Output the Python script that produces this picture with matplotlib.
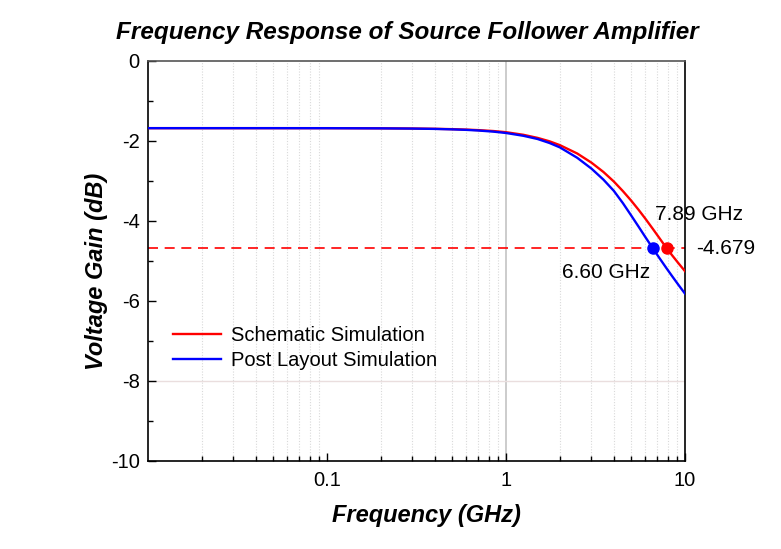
import numpy as np
import matplotlib.pyplot as plt
from matplotlib.ticker import FixedLocator, NullFormatter

plt.rcParams['font.family'] = ['Liberation Sans', 'DejaVu Sans']
plt.rcParams['axes.unicode_minus'] = False

# frequency in GHz, gain in dB
freq = [0.01, 0.05, 0.1, 0.2, 0.3, 0.4, 0.5, 0.6, 0.7, 0.85, 1.0, 1.25, 1.5, 1.75,
        2.0, 2.5, 3.0, 3.5, 4.0, 4.5, 5.0, 5.5, 6.0, 6.6, 7.2, 7.89, 8.5, 9.2, 10.0]
gain_sch = [-1.679, -1.679, -1.679, -1.683, -1.688, -1.695, -1.704, -1.715, -1.728, -1.751, -1.78,
            -1.845, -1.922, -2.008, -2.104, -2.313, -2.541, -2.774, -3.012, -3.254, -3.489, -3.719,
            -3.940, -4.193, -4.430, -4.679, -4.866, -5.059, -5.255]
gain_pls = [-1.679, -1.679, -1.68, -1.684, -1.69, -1.698, -1.709, -1.722, -1.738, -1.766, -1.80,
            -1.87, -1.95, -2.05, -2.16, -2.42, -2.69, -2.965, -3.245, -3.555, -3.86, -4.14,
            -4.40, -4.679, -4.928, -5.185, -5.388, -5.60, -5.817]
f3db_sch, f3db_pls = 7.89, 6.60
g3db = -4.679

fig = plt.figure(figsize=(7.81, 5.49), dpi=100)
ax = fig.add_axes([0.1895, 0.1603, 0.6876, 0.7286])

# grid: dotted minor verticals, solid at 1 GHz, faint at -8 dB
minor_x = [m * 10.0**e for e in (-2, -1, 0) for m in range(2, 10)]
for xm in minor_x:
    ax.axvline(xm, color='#d9d9d9', lw=0.8, ls=(0, (1, 1.5)), zorder=0)
ax.axvline(1, color='#c4c4c4', lw=1.2, zorder=0)
ax.axhline(-8, color='#eadede', lw=1.0, zorder=0)

ax.axhline(g3db, color='red', lw=1.2, ls=(0, (6, 4)), zorder=1)
ax.plot(freq, gain_sch, color='red', lw=1.7, label='Schematic Simulation', zorder=3)
ax.plot(freq, gain_pls, color='blue', lw=1.7, label='Post Layout Simulation', zorder=3)
ax.plot([f3db_sch], [g3db], 'o', color='red', ms=8, zorder=4)
ax.plot([f3db_pls], [g3db], 'o', color='blue', ms=8, zorder=4)

ax.text(6.8, -3.83, '7.89 GHz', fontsize=15, va='center', ha='left')
ax.text(6.4, -5.3, '6.60 GHz', fontsize=15, va='center', ha='right')
ax.text(11.6, g3db, '-4.679', fontsize=15, va='center', ha='left', clip_on=False)

ax.set_xscale('log')
ax.set_xlim(0.01, 10)
ax.set_ylim(-10, 0)
ax.xaxis.set_major_locator(FixedLocator([0.1, 1, 10]))
ax.set_xticklabels(['0.1', '1', '10'])
ax.xaxis.set_minor_locator(FixedLocator(minor_x))
ax.xaxis.set_minor_formatter(NullFormatter())
ax.set_yticks(np.arange(-10, 1, 2))
ax.set_yticks(np.arange(-9, 0, 2), minor=True)
ax.tick_params(which='both', direction='in', labelsize=14.5, top=False, right=False)
ax.tick_params(which='major', length=6, width=1)
ax.tick_params(which='minor', length=3.5, width=1)
ax.tick_params(axis='x', pad=7.5)
ax.tick_params(axis='y', pad=6)
for s in ax.spines.values():
    s.set_linewidth(1.2)
ax.spines['top'].set_color('#555555')

ax.set_xlabel('Frequency (GHz)', fontsize=17, fontweight='bold', style='italic',
              labelpad=10, x=0.518)
ax.set_ylabel('Voltage Gain (dB)', fontsize=17, fontweight='bold', style='italic',
              labelpad=2, y=0.475)
ax.set_title('Frequency Response of Source Follower Amplifier', fontsize=17.5,
             fontweight='bold', style='italic', pad=16, x=0.483)

ax.legend(loc='upper left', bbox_to_anchor=(0.0125, 0.383), frameon=False, fontsize=14.5,
          handlelength=2.4, handletextpad=0.5, labelspacing=0.3)

fig.savefig('out.png', dpi=100)
